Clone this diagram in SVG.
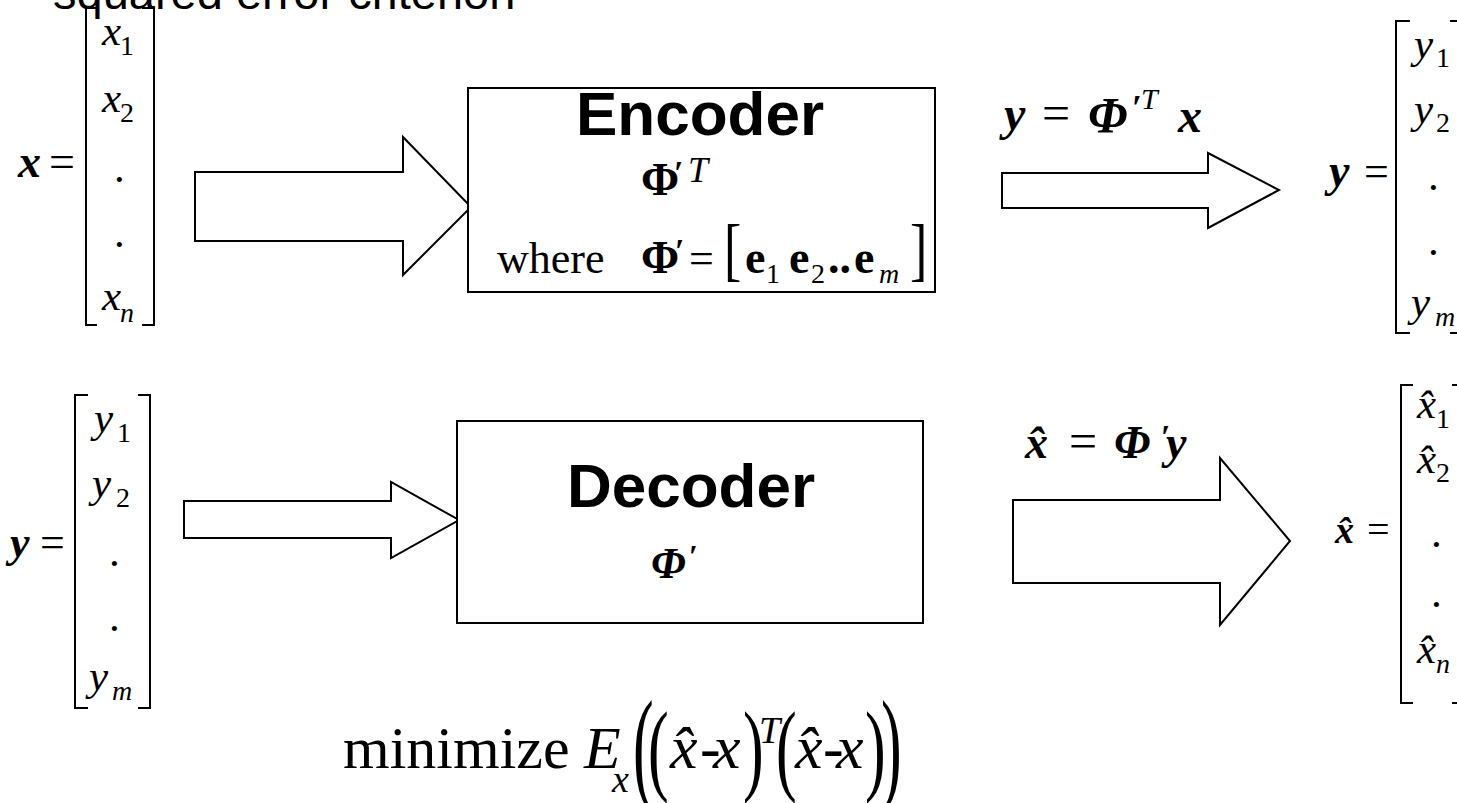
<svg xmlns="http://www.w3.org/2000/svg" width="1457" height="803" viewBox="0 0 1457 803">
<style>
.tm{font-family:"Liberation Serif","Times New Roman",serif;fill:#000}
.it{font-style:italic}
.bd{font-weight:bold}
.ar{font-family:"Liberation Sans",Arial,sans-serif;fill:#000}
.box{fill:#fff;stroke:#000;stroke-width:2}
.arrow{fill:#fff;stroke:#000;stroke-width:2;stroke-linejoin:miter}
.br{fill:none;stroke:#000;stroke-width:2}
.el{font-size:43px}
.sb{font-size:28px}
</style>
<rect width="1457" height="803" fill="#fff"/>

<g id="title">
<text class="ar" x="53" y="9" font-size="47">squared error criterion</text>
</g>

<g id="connectors">
<polygon class="arrow" points="195,172 403,172 403,137 471,207 403,275 403,241 195,241"/>
<polygon class="arrow" points="1002,173 1208,173 1208,153 1279,190 1208,228 1208,208 1002,208"/>
<polygon class="arrow" points="184,501 391,501 391,482 459,520 391,558 391,538 184,538"/>
<polygon class="arrow" points="1013,500 1220,500 1220,458 1290,541 1220,625 1220,583 1013,583"/>
</g>

<g id="connector-labels">
<g id="label-encode">
<text class="tm it bd" x="1004" y="130" font-size="48">y</text>
<text class="tm" x="1042" y="130" font-size="50">=</text>
<text class="tm it bd" x="1088" y="132" font-size="50">Φ</text>
<text class="tm bd" x="1132" y="120" font-size="36">′</text>
<text class="tm it" x="1141" y="109" font-size="30">T</text>
<text class="tm it bd" x="1178" y="132" font-size="48">x</text>
</g>
<g id="label-decode">
<text class="tm it bd" x="1025" y="458" font-size="46">x̂</text>
<text class="tm" x="1069" y="458" font-size="50">=</text>
<text class="tm it bd" x="1114" y="458" font-size="46">Φ</text>
<text class="tm bd" x="1161" y="448" font-size="34">′</text>
<text class="tm it bd" x="1166" y="458" font-size="46">y</text>
</g>
</g>

<g id="x-vector">
<text class="tm it bd" x="18" y="177" font-size="46">x</text>
<text class="tm" x="49" y="177" font-size="46">=</text>
<path class="br" d="M97,8 H86 V325 H97 M142,8 H154 V325 H142"/>
<text class="tm it el" x="102" y="45">x</text><text class="tm sb" x="120" y="55">1</text>
<text class="tm it el" x="102" y="112">x</text><text class="tm sb" x="120" y="122">2</text>
<text class="tm el" x="114" y="182">.</text>
<text class="tm el" x="114" y="247">.</text>
<text class="tm it el" x="102" y="310">x</text><text class="tm it sb" x="120" y="322">n</text>
</g>

<g id="encoder">
<rect class="box" x="468" y="88" width="467" height="204"/>
<text class="ar bd" x="700" y="135" font-size="62" text-anchor="middle">Encoder</text>
<text class="tm bd" x="641" y="195" font-size="46">Φ</text>
<text class="tm bd" x="674" y="184" font-size="34">′</text>
<text class="tm it" x="688" y="182" font-size="36">T</text>
<text class="tm" x="497" y="273" font-size="44">where</text>
<text class="tm bd" x="641" y="273" font-size="46">Φ</text>
<text class="tm bd" x="675" y="262" font-size="34">′</text>
<text class="tm" x="689" y="273" font-size="44">=</text>
<text class="tm" transform="translate(724,273) scale(1,1.35)" font-size="52">[</text>
<text class="tm bd" x="745" y="273" font-size="46">e</text><text class="tm sb" x="766" y="283">1</text>
<text class="tm bd" x="789" y="273" font-size="46">e</text><text class="tm sb" x="811" y="283">2</text>
<text class="tm bd" x="828" y="273" font-size="46">..</text>
<text class="tm bd" x="854" y="273" font-size="46">e</text><text class="tm it sb" x="879" y="283">m</text>
<text class="tm" transform="translate(910,273) scale(1,1.35)" font-size="52">]</text>
</g>

<g id="y-vector-top">
<text class="tm it bd" x="1329" y="186" font-size="46">y</text>
<text class="tm" x="1364" y="186" font-size="44">=</text>
<path class="br" d="M1410,21 H1396 V333 H1410 M1450,21 H1460 V333 H1450"/>
<text class="tm it el" x="1414" y="58">y</text><text class="tm sb" x="1436" y="67">1</text>
<text class="tm it el" x="1414" y="123">y</text><text class="tm sb" x="1436" y="132">2</text>
<text class="tm el" x="1428" y="190">.</text>
<text class="tm el" x="1428" y="255">.</text>
<text class="tm it el" x="1411" y="316">y</text><text class="tm it sb" x="1435" y="326">m</text>
</g>

<g id="decoder">
<rect class="box" x="457" y="421" width="466" height="202"/>
<text class="ar bd" x="691" y="507" font-size="62" text-anchor="middle">Decoder</text>
<text class="tm it bd" x="651" y="578" font-size="44">Φ</text>
<text class="tm bd" x="689" y="567" font-size="32">′</text>
</g>

<g id="y-vector-bottom">
<text class="tm it bd" x="10" y="557" font-size="44">y</text>
<text class="tm" x="40" y="557" font-size="44">=</text>
<path class="br" d="M88,395 H75 V708 H88 M138,395 H150 V708 H138"/>
<text class="tm it el" x="94" y="432">y</text><text class="tm sb" x="117" y="442">1</text>
<text class="tm it el" x="92" y="497">y</text><text class="tm sb" x="116" y="507">2</text>
<text class="tm el" x="109" y="566">.</text>
<text class="tm el" x="109" y="631">.</text>
<text class="tm it el" x="89" y="690">y</text><text class="tm it sb" x="112" y="700">m</text>
</g>

<g id="xhat-vector">
<text class="tm it bd" x="1335" y="543" font-size="38">x̂</text>
<text class="tm" x="1367" y="543" font-size="40">=</text>
<path class="br" d="M1413,385 H1401 V703 H1413 M1452,385 H1460 V703 H1452"/>
<text class="tm it el" x="1417" y="418">x̂</text><text class="tm sb" x="1436" y="428">1</text>
<text class="tm it el" x="1417" y="473">x̂</text><text class="tm sb" x="1436" y="482">2</text>
<text class="tm el" x="1431" y="547">.</text>
<text class="tm el" x="1431" y="607">.</text>
<text class="tm it el" x="1417" y="663">x̂</text><text class="tm it sb" x="1436" y="673">n</text>
</g>

<g id="objective">
<text class="tm" x="343" y="768" font-size="60">minimize</text>
<text class="tm it" x="584" y="768" font-size="60">E</text>
<text class="tm it" x="612" y="792" font-size="38">x</text>
<text class="tm" transform="translate(633,787) scale(1,2)" font-size="62">(</text>
<text class="tm" transform="translate(648,782) scale(1,1.64)" font-size="62">(</text>
<text class="tm it" x="670" y="768" font-size="62">x̂</text>
<text class="tm" x="700" y="768" font-size="62">-</text>
<text class="tm it" x="713" y="768" font-size="62">x</text>
<text class="tm" transform="translate(743,782) scale(1,1.64)" font-size="62">)</text>
<text class="tm it" x="759" y="743" font-size="38">T</text>
<text class="tm" transform="translate(776,782) scale(1,1.64)" font-size="62">(</text>
<text class="tm it" x="795" y="768" font-size="62">x̂</text>
<text class="tm" x="823" y="768" font-size="62">-</text>
<text class="tm it" x="836" y="768" font-size="62">x</text>
<text class="tm" transform="translate(865,782) scale(1,1.64)" font-size="62">)</text>
<text class="tm" transform="translate(881,787) scale(1,2)" font-size="62">)</text>
</g>
</svg>
